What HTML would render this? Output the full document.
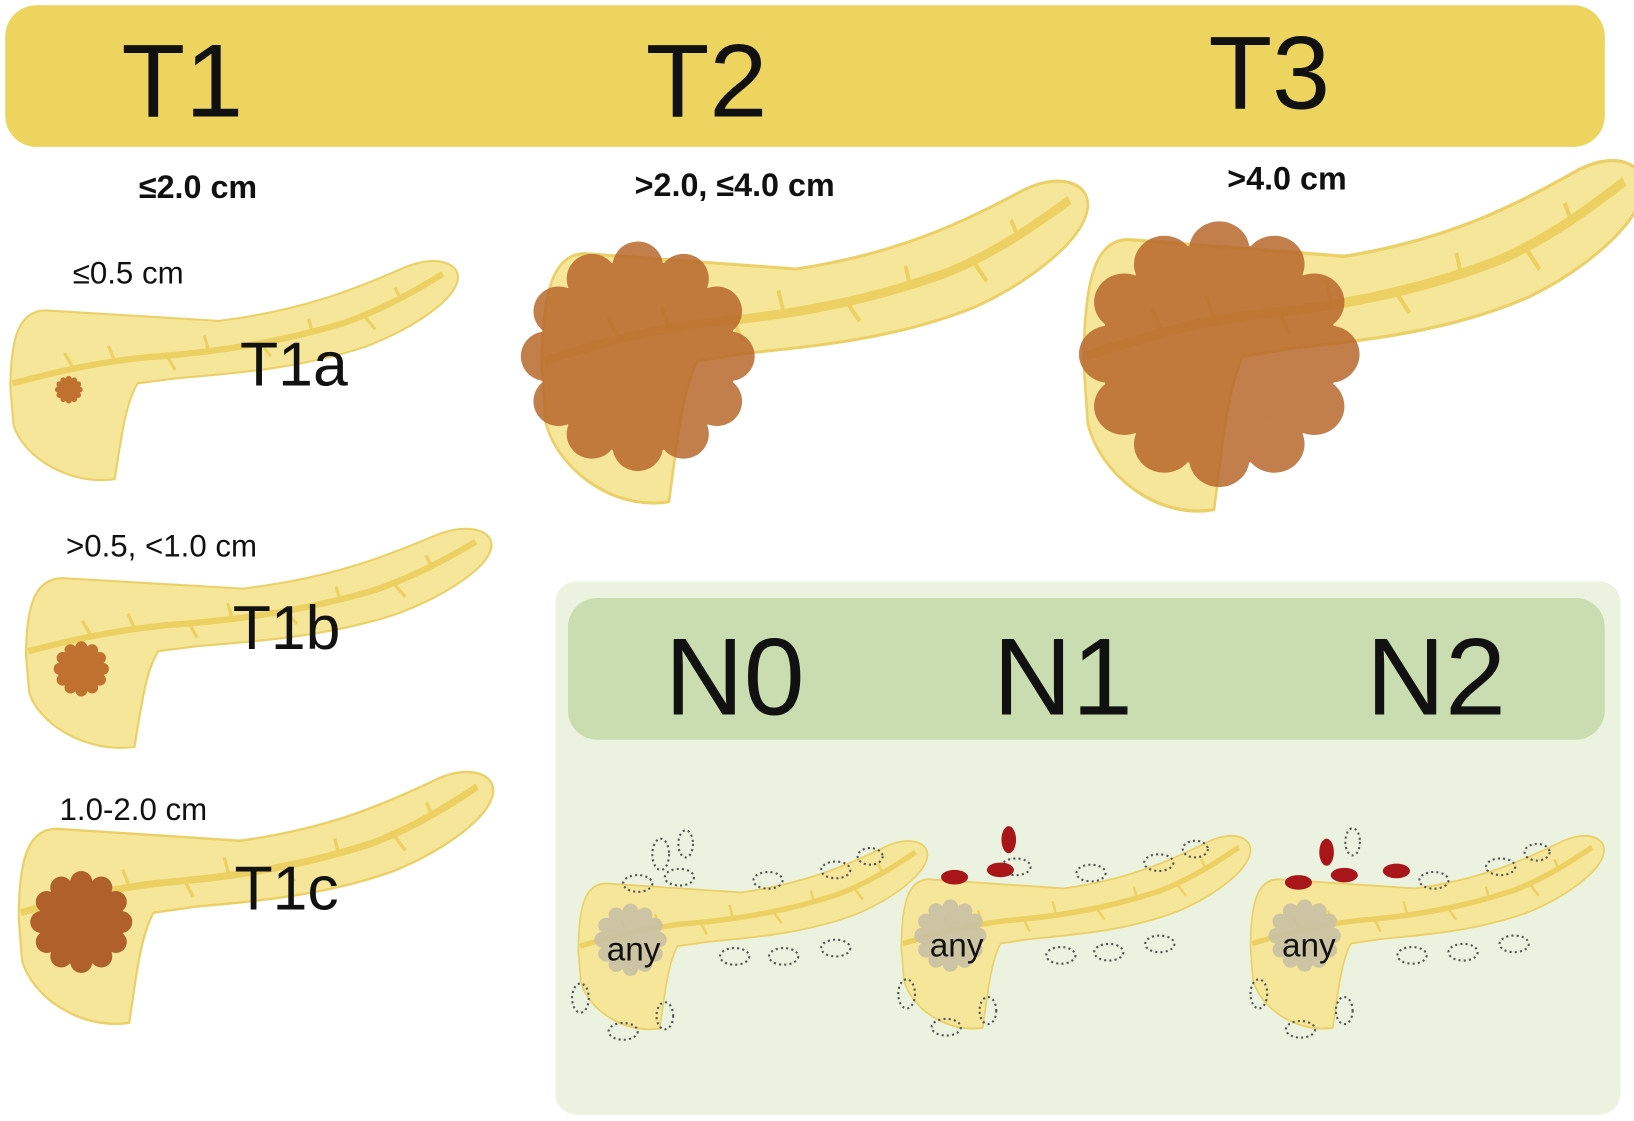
<!DOCTYPE html>
<html><head><meta charset="utf-8"><style>
html,body{margin:0;padding:0;background:#fff;}
svg{display:block;}
text{font-family:"Liberation Sans",sans-serif;fill:#111;}
</style></head><body>
<svg width="1634" height="1121" viewBox="0 0 1568 1076" preserveAspectRatio="none" xmlns="http://www.w3.org/2000/svg">
<defs>
<g id="p">
<path d="M0,125 C0,72 10,50 34,50 L200,60 C280,50 330,30 380,8 C410,-4 436,5 428,25 C420,45 380,70 340,85 C280,105 220,110 160,115 L122,120 C110,140 106,175 100,212 C55,218 12,190 3,160 Z" fill="#f6e69a" stroke="#ead067" stroke-width="2"/>
<path d="M2,120 C40,110 80,100 130,95 C200,90 260,80 320,62 C360,48 390,30 415,15" fill="none" stroke="#ecd061" stroke-width="6"/>
<path d="M60,105 l-8,-14 M100,98 l-6,-14 M150,93 l8,14 M190,88 l-4,-14 M240,82 l10,12 M290,72 l-4,-14 M340,56 l10,12 M375,40 l-6,-12" stroke="#ecd061" stroke-width="3" fill="none"/>
</g>
<g id="blob">
<circle cx="0" cy="0" r="0.86"/>
<circle cx="0.8" cy="0" r="0.22"/><circle cx="0.69" cy="0.4" r="0.22"/><circle cx="0.4" cy="0.69" r="0.22"/><circle cx="0" cy="0.8" r="0.22"/><circle cx="-0.4" cy="0.69" r="0.22"/><circle cx="-0.69" cy="0.4" r="0.22"/><circle cx="-0.8" cy="0" r="0.22"/><circle cx="-0.69" cy="-0.4" r="0.22"/><circle cx="-0.4" cy="-0.69" r="0.22"/><circle cx="0" cy="-0.8" r="0.22"/><circle cx="0.4" cy="-0.69" r="0.22"/><circle cx="0.69" cy="-0.4" r="0.22"/>
</g>
</defs>
<rect width="1568" height="1076" fill="#fff"/>
<rect x="5" y="5" width="1535" height="136" rx="30" fill="#ecd45e"/>
<text x="175" y="112" font-size="100" text-anchor="middle">T1</text>
<text x="678" y="112" font-size="100" text-anchor="middle">T2</text>
<text x="1218" y="104" font-size="100" text-anchor="middle">T3</text>

<g font-weight="bold">
<text x="190" y="190" font-size="31" text-anchor="middle">≤2.0 cm</text>
<text x="705" y="188" font-size="31" text-anchor="middle">&gt;2.0, ≤4.0 cm</text>
<text x="1235" y="182" font-size="31" text-anchor="middle">&gt;4.0 cm</text>
<text x="1035" y="767" font-size="31" text-anchor="middle">1-3 nodes</text>
<text x="1383" y="767" font-size="31" text-anchor="middle">≥4 nodes</text>
</g>
<text x="123" y="272" font-size="30" text-anchor="middle">≤0.5 cm</text>
<text x="155" y="534" font-size="30" text-anchor="middle">&gt;0.5, &lt;1.0 cm</text>
<text x="128" y="787" font-size="30" text-anchor="middle">1.0-2.0 cm</text>

<use href="#p" transform="translate(10,248)"/>
<use href="#p" transform="translate(25,505) scale(1.04,1)"/>
<use href="#p" transform="translate(18,738) scale(1.06,1.15)"/>
<use href="#p" transform="translate(520,170) scale(1.22,1.47)"/>
<use href="#p" transform="translate(1040,150) scale(1.25,1.6)"/>

<g fill="#c0702f">
<use href="#blob" transform="translate(66,374) scale(13)"/>
<use href="#blob" transform="translate(78,642) scale(26)"/>
</g>
<use href="#blob" transform="translate(78,885) scale(48)" fill="#b0602a"/>
<g opacity="0.85" fill="#b8682c"><use href="#blob" transform="translate(612,342) scale(110,108)"/></g>
<g opacity="0.85" fill="#b8682c"><use href="#blob" transform="translate(1170,340) scale(132,125)"/></g>

<text x="282" y="370" font-size="60" text-anchor="middle">T1a</text>
<text x="275" y="623" font-size="60" text-anchor="middle">T1b</text>
<text x="275" y="873" font-size="60" text-anchor="middle">T1c</text>

<rect x="533" y="558" width="1022" height="512" rx="20" fill="#ebf3e0"/>
<rect x="545" y="574" width="995" height="136" rx="28" fill="#c9ddb0"/>
<text x="705" y="686" font-size="105" text-anchor="middle">N0</text>
<text x="1020" y="686" font-size="105" text-anchor="middle">N1</text>
<text x="1378" y="686" font-size="105" text-anchor="middle">N2</text>

<use href="#p" transform="translate(555,805) scale(0.78,0.86)"/>
<use href="#p" transform="translate(865,800) scale(0.78,0.88)"/>
<use href="#p" transform="translate(1200,800) scale(0.79,0.88)"/>
<g fill="#c9c1a5" opacity="0.9">
<use href="#blob" transform="translate(605,902) scale(34)"/><use href="#blob" transform="translate(912,898) scale(34)"/><use href="#blob" transform="translate(1252,898) scale(34)"/>
</g>
<text x="608" y="922" font-size="32" text-anchor="middle">any</text>
<text x="918" y="918" font-size="32" text-anchor="middle">any</text>
<text x="1256" y="918" font-size="32" text-anchor="middle">any</text>

<g fill="none" stroke="#555" stroke-width="2" stroke-dasharray="2,3">
<ellipse cx="634" cy="820" rx="8" ry="15"/><ellipse cx="658" cy="810" rx="7" ry="13"/><ellipse cx="652" cy="842" rx="14" ry="8"/><ellipse cx="612" cy="848" rx="14" ry="8"/><ellipse cx="737" cy="845" rx="14" ry="8"/><ellipse cx="802" cy="835" rx="14" ry="8"/><ellipse cx="835" cy="822" rx="12" ry="8"/><ellipse cx="705" cy="918" rx="14" ry="8"/><ellipse cx="752" cy="918" rx="14" ry="8"/><ellipse cx="802" cy="910" rx="14" ry="8"/><ellipse cx="557" cy="958" rx="8" ry="14"/><ellipse cx="598" cy="990" rx="14" ry="8"/><ellipse cx="638" cy="975" rx="8" ry="13"/>
<ellipse cx="975" cy="832" rx="14" ry="8"/><ellipse cx="1047" cy="838" rx="14" ry="8"/><ellipse cx="1112" cy="828" rx="14" ry="8"/><ellipse cx="1147" cy="815" rx="12" ry="8"/><ellipse cx="1018" cy="917" rx="14" ry="8"/><ellipse cx="1064" cy="914" rx="14" ry="8"/><ellipse cx="1113" cy="906" rx="14" ry="8"/><ellipse cx="870" cy="954" rx="8" ry="14"/><ellipse cx="908" cy="986" rx="14" ry="8"/><ellipse cx="948" cy="970" rx="8" ry="13"/>
<ellipse cx="1298" cy="808" rx="7" ry="13"/><ellipse cx="1376" cy="845" rx="14" ry="8"/><ellipse cx="1440" cy="832" rx="14" ry="8"/><ellipse cx="1475" cy="818" rx="12" ry="8"/><ellipse cx="1355" cy="917" rx="14" ry="8"/><ellipse cx="1404" cy="914" rx="14" ry="8"/><ellipse cx="1453" cy="906" rx="14" ry="8"/><ellipse cx="1208" cy="954" rx="8" ry="14"/><ellipse cx="1248" cy="988" rx="14" ry="8"/><ellipse cx="1290" cy="970" rx="8" ry="13"/>
</g>
<g fill="#a8161a">
<ellipse cx="968" cy="806" rx="7" ry="13"/><ellipse cx="960" cy="835" rx="13" ry="7"/><ellipse cx="916" cy="842" rx="13" ry="7"/>
<ellipse cx="1273" cy="818" rx="7" ry="13"/><ellipse cx="1290" cy="840" rx="13" ry="7"/><ellipse cx="1246" cy="847" rx="13" ry="7"/><ellipse cx="1340" cy="836" rx="13" ry="7"/>
</g>
</svg>
</body></html>
